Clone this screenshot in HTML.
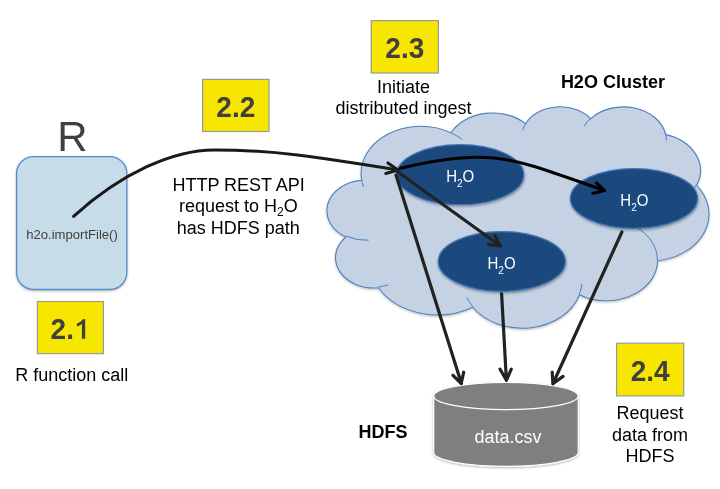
<!DOCTYPE html>
<html><head><meta charset="utf-8"><style>
html,body{margin:0;padding:0;background:#fff;width:720px;height:489px;overflow:hidden}
svg{display:block;will-change:transform}
</style></head><body>
<svg width="720" height="489" viewBox="0 0 720 489">
<defs>
<filter id="sh" x="-20%" y="-20%" width="140%" height="150%">
<feDropShadow dx="0.5" dy="1.5" stdDeviation="1" flood-color="#000" flood-opacity="0.35"/>
</filter>
<filter id="sh2" x="-20%" y="-20%" width="140%" height="150%">
<feDropShadow dx="0" dy="1" stdDeviation="1.2" flood-color="#000" flood-opacity="0.3"/>
</filter>
<filter id="sh3" x="-10%" y="-10%" width="120%" height="125%">
<feDropShadow dx="0" dy="1.2" stdDeviation="1" flood-color="#000" flood-opacity="0.25"/>
</filter>
</defs><rect x="16.6" y="156.6" width="110.2" height="132.9" rx="17" ry="17" fill="#c6dde9" stroke="#5a8ac6" stroke-width="1.3" filter="url(#sh2)"/><text x="72.5" y="151" font-family='"Liberation Sans", sans-serif' font-size="42" fill="#404040" text-anchor="middle">R</text><text x="72" y="239" font-family='"Liberation Sans", sans-serif' font-size="13.1" fill="#404040" text-anchor="middle">h2o.importFile()</text><rect x="37.4" y="301.5" width="66.0" height="52.1" fill="#f6e600" stroke="#999999" stroke-width="1.2"/><g transform="translate(70.40 338.85) scale(1 1.04)"><text x="-19.8" y="0" font-family='"Liberation Sans", sans-serif' font-weight="bold" font-size="28" fill="#404040" text-anchor="start">2.</text></g><path d="M81.9 338.8 L85.2 338.8 L85.2 319.2 L82.6 319.2 C81.5 321.2 79.5 322.6 76.9 323.4 L76.9 326.6 C78.9 326 80.6 325 81.9 324 Z" fill="#404040"/><rect x="202.6" y="79.4" width="66.4" height="52.1" fill="#f6e600" stroke="#999999" stroke-width="1.2"/><g transform="translate(235.80 116.75) scale(1 1.04)"><text x="0" y="0" font-family='"Liberation Sans", sans-serif' font-weight="bold" font-size="28" fill="#404040" text-anchor="middle">2.2</text></g><rect x="371.2" y="20.6" width="67.2" height="52.4" fill="#f6e600" stroke="#999999" stroke-width="1.2"/><g transform="translate(404.80 58.10) scale(1 1.04)"><text x="0" y="0" font-family='"Liberation Sans", sans-serif' font-weight="bold" font-size="28" fill="#404040" text-anchor="middle">2.3</text></g><rect x="616.6" y="343.2" width="67.1" height="52.7" fill="#f6e600" stroke="#999999" stroke-width="1.2"/><g transform="translate(650.15 380.85) scale(1 1.04)"><text x="0" y="0" font-family='"Liberation Sans", sans-serif' font-weight="bold" font-size="28" fill="#404040" text-anchor="middle">2.4</text></g><text x="71.7" y="381" font-family='"Liberation Sans", sans-serif' font-size="18" font-weight="normal" fill="#000" text-anchor="middle">R function call</text><text x="238.6" y="190.8" font-family='"Liberation Sans", sans-serif' font-size="18" font-weight="normal" fill="#000" text-anchor="middle">HTTP REST API</text><text x="238.3" y="211.8" font-family='"Liberation Sans", sans-serif' font-size="18" fill="#000" text-anchor="middle">request to H<tspan font-size="12" dy="4">2</tspan><tspan dy="-4">O</tspan></text><text x="238.3" y="233.5" font-family='"Liberation Sans", sans-serif' font-size="18" font-weight="normal" fill="#000" text-anchor="middle">has HDFS path</text><text x="403.5" y="93.4" font-family='"Liberation Sans", sans-serif' font-size="18" font-weight="normal" fill="#000" text-anchor="middle">Initiate</text><text x="403.5" y="113.6" font-family='"Liberation Sans", sans-serif' font-size="18" font-weight="normal" fill="#000" text-anchor="middle">distributed ingest</text><text x="612.9" y="87.9" font-family='"Liberation Sans", sans-serif' font-size="18" font-weight="bold" fill="#000" text-anchor="middle">H2O Cluster</text><text x="383" y="438" font-family='"Liberation Sans", sans-serif' font-size="18" font-weight="bold" fill="#000" text-anchor="middle">HDFS</text><text x="650.1" y="418.8" font-family='"Liberation Sans", sans-serif' font-size="18" font-weight="normal" fill="#000" text-anchor="middle">Request</text><text x="650.1" y="440.6" font-family='"Liberation Sans", sans-serif' font-size="18" font-weight="normal" fill="#000" text-anchor="middle">data from</text><text x="650.1" y="461.8" font-family='"Liberation Sans", sans-serif' font-size="18" font-weight="normal" fill="#000" text-anchor="middle">HDFS</text><path d="M361.65 179.71A59.65 47.08 0 0 1 450.91 132.75A47.11 37.23 0 0 1 525.56 123.68A38.56 30.45 0 0 1 590.72 118.81A42.90 33.78 0 0 1 665.68 134.66A47.11 37.26 0 0 1 696.60 185.30A59.85 47.23 0 0 1 657.61 260.82A51.10 40.30 0 0 1 579.44 294.68A59.64 47.21 0 0 1 472.78 307.24A68.19 54.01 0 0 1 378.48 287.80A38.51 30.32 0 0 1 345.87 236.98A38.38 30.45 0 0 1 361.33 180.40Z" fill="#c5d2e3" stroke="#4f81bd" stroke-width="1.1" filter="url(#sh3)"/><path d="M368.65 240.20A38.38 30.45 0 0 1 346.28 236.11M388.40 284.88A38.51 30.32 0 0 1 378.61 286.83M472.76 306.35A59.64 47.21 0 0 1 466.86 297.43M581.84 284.12A59.64 47.21 0 0 1 579.48 293.90M628.67 223.69A51.10 40.30 0 0 1 657.39 260.24M696.42 184.75A47.11 37.26 0 0 1 683.63 198.46M665.73 133.90A42.90 33.78 0 0 1 666.40 140.37M584.06 126.34A42.90 33.78 0 0 1 590.61 118.09M522.78 130.28A38.56 30.45 0 0 1 525.95 123.16M450.87 132.70A59.65 47.08 0 0 1 462.35 139.60M363.66 186.98A59.65 47.08 0 0 1 361.65 179.71" fill="none" stroke="#4f81bd" stroke-width="1"/><ellipse cx="460.2" cy="174.7" rx="63.6" ry="30.05" fill="#1f497d" stroke="#4074b8" stroke-width="1.2" filter="url(#sh)"/><g transform="translate(460.2 181.9) scale(0.92 1)"><text x="0" y="0" font-family='"Liberation Sans", sans-serif' font-size="16.3" fill="#fff" text-anchor="middle">H<tspan font-size="11" dy="4.6">2</tspan><tspan dy="-4.6">O</tspan></text></g><ellipse cx="634" cy="198.5" rx="63.6" ry="29.9" fill="#1f497d" stroke="#4074b8" stroke-width="1.2" filter="url(#sh)"/><g transform="translate(634.4 206.4) scale(0.92 1)"><text x="0" y="0" font-family='"Liberation Sans", sans-serif' font-size="16.3" fill="#fff" text-anchor="middle">H<tspan font-size="11" dy="4.6">2</tspan><tspan dy="-4.6">O</tspan></text></g><ellipse cx="501.8" cy="261.5" rx="63.6" ry="29.9" fill="#1f497d" stroke="#4074b8" stroke-width="1.2" filter="url(#sh)"/><g transform="translate(501.5 269.1) scale(0.92 1)"><text x="0" y="0" font-family='"Liberation Sans", sans-serif' font-size="16.3" fill="#fff" text-anchor="middle">H<tspan font-size="11" dy="4.6">2</tspan><tspan dy="-4.6">O</tspan></text></g><g filter="url(#sh2)"><path d="M433.7 396 L433.7 452.6 A72.25 13.7 0 0 0 578.2 452.6 L578.2 396 A72.25 13.7 0 0 0 433.7 396 Z" fill="#7f7f7f" stroke="#fff" stroke-width="1.2"/><path d="M433.7 396 A72.25 13.7 0 0 0 578.2 396" fill="none" stroke="#fff" stroke-width="1.2"/></g><text x="507.9" y="442.5" font-family='"Liberation Sans", sans-serif' font-size="18" font-weight="normal" fill="#fff" text-anchor="middle">data.csv</text><path d="M73.60 216.30 C122.06 172.65 173.49 149.90 214.12 149.90 C272.82 149.91 316.62 156.88 398.0 170.0" stroke="#1a1a1a" stroke-width="3.0" stroke-linecap="round" stroke-linejoin="round" fill="none"/><path d="M387.9 162.9 L398.0 170.0 L385.8 173.5" stroke="#1a1a1a" stroke-width="3.0" stroke-linecap="round" stroke-linejoin="round" fill="none"/><path d="M400.4 168.3 C495.34 145.62 514.35 159.80 604.40 190.40" stroke="#000" stroke-width="3.0" stroke-linecap="round" stroke-linejoin="round" fill="none"/><path d="M596.5 182.8 L604.6 190.6 L592.9 193.2" stroke="#000" stroke-width="3.0" stroke-linecap="round" stroke-linejoin="round" fill="none"/><path d="M397.3 171.5 L500.5 246 M494.8 235.4 L500.5 246 L488.2 244.4" stroke="#222" stroke-width="3.2" stroke-linecap="round" stroke-linejoin="round" fill="none"/><path d="M396.0 175.1 L461.4 383.5 M453 375.3 L461.2 383.5 L463.7 372.2" stroke="#222" stroke-width="3.2" stroke-linecap="round" stroke-linejoin="round" fill="none"/><path d="M501.6 293.5 L506.4 380.3 M500.1 369.2 L506.4 380.3 L511.25 369.2" stroke="#222" stroke-width="3.2" stroke-linecap="round" stroke-linejoin="round" fill="none"/><path d="M621.9 232 L552.9 383.75 M552.2 372 L552.9 383.75 L563 376.4" stroke="#222" stroke-width="3.2" stroke-linecap="round" stroke-linejoin="round" fill="none"/></svg>
</body></html>
